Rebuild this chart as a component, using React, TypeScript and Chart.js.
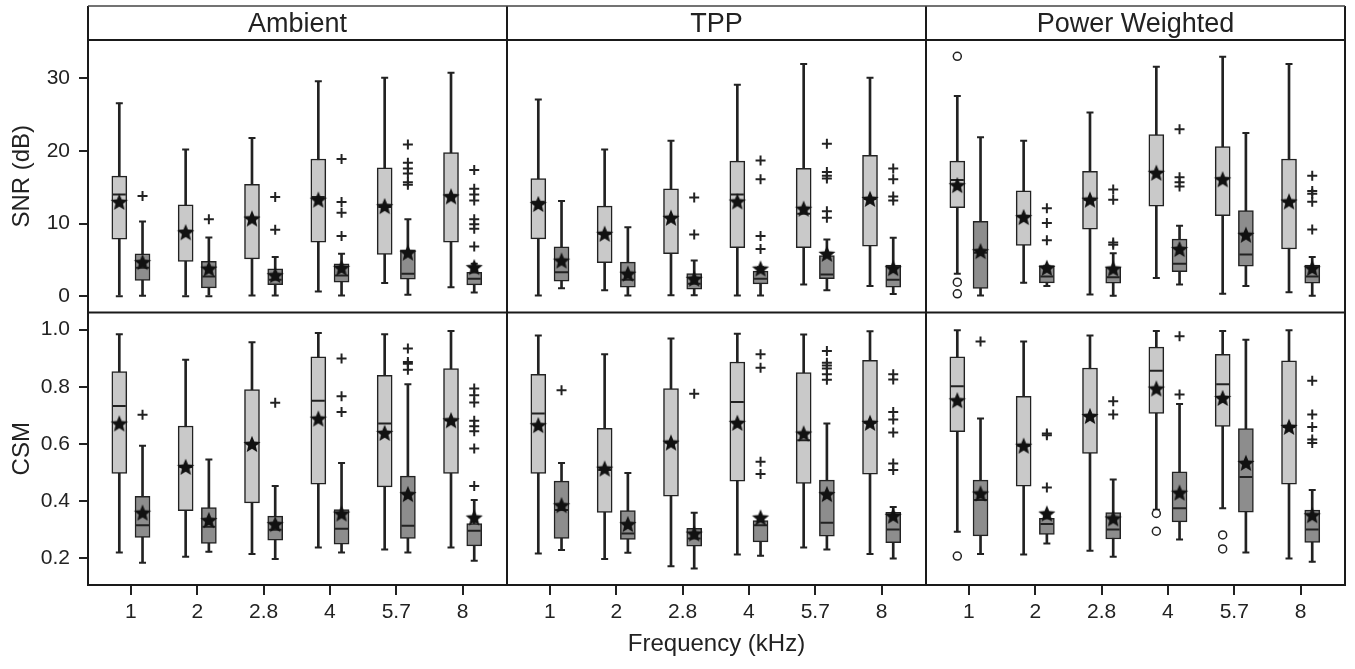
import { useEffect, useRef } from 'react';
import { Chart, registerables } from 'chart.js';

Chart.register(...registerables);

// ---------- labels ----------
const FREQ_LABELS = ['1', '2', '2.8', '4', '5.7', '8'];
const PANEL_TITLES = ['Ambient', 'TPP', 'Power Weighted'];
const SNR_TICKS = [0, 10, 20, 30];
const CSM_TICKS = [0.2, 0.4, 0.6, 0.8, 1.0];
const SNR_TITLE = 'SNR (dB)';
const CSM_TITLE = 'CSM';
const X_TITLE = 'Frequency (kHz)';

// ---------- data: each row = [min, q1, median, q3, max, mean] per frequency ----------
// group A = light boxes, group B = dark boxes
const SNR_AMBIENT_A = [
  [0, 7.86, 14.0, 16.55, 26.6, 13.0],
  [0, 4.78, 9.0, 12.6, 20.2, 8.8],
  [0.1, 5.15, 10.8, 15.4, 21.8, 10.7],
  [0.64, 7.45, 13.65, 18.9, 29.6, 13.3],
  [1.8, 5.75, 12.3, 17.7, 30.1, 12.4],
  [1.24, 7.45, 13.9, 19.8, 30.8, 13.75],
];
const SNR_AMBIENT_B = [
  [0.05, 2.16, 3.9, 5.84, 10.3, 4.7],
  [0, 1.15, 2.7, 4.8, 8.1, 3.8],
  [0.1, 1.6, 2.25, 3.77, 5.4, 2.9],
  [0.1, 1.93, 2.85, 4.46, 5.84, 3.9],
  [0.2, 2.35, 3.1, 6.4, 10.6, 6.0],
  [0.5, 1.56, 2.4, 3.3, 4.46, 4.0],
];
const SNR_AMBIENT_B_OUT = [
  [13.8], [10.6], [13.65, 9.15], [18.9, 12.97, 11.5, 8.3],
  [20.9, 18.4, 17.6, 16.9, 15.7, 15.35],
  [17.4, 14.8, 14.0, 13.2, 10.6, 9.9, 9.3, 6.85],
];

const SNR_TPP_A = [
  [0.1, 7.9, 13.0, 16.2, 27.1, 12.7],
  [0.8, 4.6, 8.6, 12.4, 20.2, 8.6],
  [0.14, 5.84, 10.9, 14.8, 21.4, 10.8],
  [0.1, 6.7, 14.0, 18.6, 29.15, 13.05],
  [1.6, 6.7, 11.35, 17.6, 32.0, 12.05],
  [1.4, 6.9, 13.4, 19.4, 30.1, 13.4],
];
const SNR_TPP_B = [
  [1.1, 2.07, 3.3, 6.8, 13.1, 4.9],
  [0.1, 1.24, 2.25, 4.7, 9.5, 3.1],
  [0.14, 0.97, 1.7, 3.1, 4.9, 2.4],
  [0.1, 1.7, 2.4, 3.45, 4.0, 3.8],
  [0.8, 2.4, 3.0, 5.6, 7.8, 5.84],
  [0.3, 1.24, 2.25, 4.3, 8.05, 3.86],
];
const SNR_TPP_B_OUT = [
  [], [], [13.6, 8.5], [18.7, 16.1, 8.3, 6.5],
  [21.0, 17.1, 16.6, 16.2, 11.7, 10.8],
  [17.6, 16.1, 13.75, 13.2],
];

const SNR_PW_A = [
  [3.1, 12.2, 16.0, 18.6, 27.6, 15.3],
  [1.84, 7.0, 11.0, 14.5, 21.4, 10.9],
  [0.23, 9.24, 13.3, 17.2, 25.3, 13.3],
  [2.5, 12.4, 17.1, 22.25, 31.6, 17.0],
  [0.32, 11.1, 16.2, 20.6, 33.0, 16.1],
  [0.55, 6.5, 13.05, 18.9, 32.0, 13.05],
];
const SNR_PW_A_CIRC = [[33.05, 1.93, 0.32], [], [], [], [], []];
const SNR_PW_B = [
  [0.1, 1.06, 6.0, 10.3, 21.9, 6.2],
  [1.4, 1.84, 2.7, 4.2, 4.2, 3.9],
  [0.05, 1.8, 2.6, 4.0, 5.9, 3.8],
  [1.6, 3.36, 4.46, 7.86, 9.7, 6.5],
  [1.4, 4.14, 5.75, 11.8, 22.5, 8.46],
  [0.05, 1.8, 2.7, 4.3, 5.4, 3.86],
];
const SNR_PW_B_OUT = [
  [], [12.1, 10.1, 7.7], [14.7, 13.3, 7.4, 7.1], [23.0, 16.4, 15.7, 15.1], [],
  [16.6, 14.5, 14.1, 13.0, 9.2],
];

const CSM_AMBIENT_A = [
  [0.221, 0.497, 0.733, 0.853, 0.984, 0.672],
  [0.206, 0.367, 0.52, 0.663, 0.895, 0.52],
  [0.215, 0.394, 0.602, 0.79, 0.956, 0.6],
  [0.238, 0.46, 0.751, 0.905, 0.988, 0.689],
  [0.231, 0.45, 0.672, 0.84, 0.984, 0.639],
  [0.238, 0.497, 0.683, 0.864, 0.995, 0.683],
];
const CSM_AMBIENT_B = [
  [0.185, 0.273, 0.316, 0.417, 0.594, 0.36],
  [0.223, 0.252, 0.311, 0.378, 0.546, 0.334],
  [0.198, 0.264, 0.3, 0.348, 0.453, 0.32],
  [0.221, 0.25, 0.304, 0.371, 0.534, 0.357],
  [0.221, 0.27, 0.314, 0.488, 0.809, 0.425],
  [0.192, 0.244, 0.297, 0.322, 0.404, 0.343],
];
const CSM_AMBIENT_B_OUT = [
  [0.702], [], [0.744], [0.899, 0.767, 0.712],
  [0.934, 0.887, 0.881, 0.86],
  [0.794, 0.771, 0.745, 0.681, 0.662, 0.645, 0.584, 0.453],
];

const CSM_TPP_A = [
  [0.217, 0.497, 0.707, 0.844, 0.98, 0.666],
  [0.198, 0.361, 0.509, 0.655, 0.914, 0.514],
  [0.173, 0.418, 0.605, 0.794, 0.969, 0.605],
  [0.214, 0.47, 0.747, 0.887, 0.986, 0.674],
  [0.238, 0.462, 0.613, 0.85, 0.983, 0.637],
  [0.215, 0.495, 0.674, 0.893, 0.994, 0.674],
];
const CSM_TPP_B = [
  [0.229, 0.27, 0.369, 0.47, 0.534, 0.386],
  [0.22, 0.266, 0.287, 0.367, 0.499, 0.32],
  [0.165, 0.243, 0.27, 0.305, 0.36, 0.287],
  [0.209, 0.258, 0.316, 0.332, 0.34, 0.343],
  [0.231, 0.278, 0.325, 0.474, 0.672, 0.425],
  [0.2, 0.255, 0.301, 0.361, 0.38, 0.349],
];
const CSM_TPP_B_OUT = [
  [0.788], [], [0.776], [0.914, 0.867, 0.538, 0.495],
  [0.925, 0.884, 0.875, 0.864, 0.844, 0.825],
  [0.844, 0.826, 0.712, 0.686, 0.64, 0.532, 0.509],
];

const CSM_PW_A = [
  [0.293, 0.643, 0.802, 0.905, 0.998, 0.753],
  [0.214, 0.453, 0.594, 0.767, 0.959, 0.594],
  [0.227, 0.567, 0.7, 0.866, 0.98, 0.698],
  [0.37, 0.707, 0.856, 0.939, 0.995, 0.794],
  [0.375, 0.662, 0.809, 0.914, 0.995, 0.761],
  [0.2, 0.46, 0.66, 0.891, 0.998, 0.66],
];
const CSM_PW_A_CIRC = [[0.208], [], [], [0.357, 0.295], [0.282, 0.233], []];
const CSM_PW_B = [
  [0.215, 0.279, 0.404, 0.474, 0.689, 0.427],
  [0.252, 0.284, 0.32, 0.34, 0.36, 0.357],
  [0.206, 0.268, 0.301, 0.36, 0.476, 0.34],
  [0.266, 0.328, 0.375, 0.503, 0.74, 0.43],
  [0.221, 0.362, 0.485, 0.654, 0.965, 0.534],
  [0.188, 0.256, 0.301, 0.369, 0.439, 0.351],
];
const CSM_PW_B_OUT = [
  [0.959], [0.637, 0.631, 0.448], [0.75, 0.703], [0.977, 0.773], [],
  [0.821, 0.703, 0.66, 0.616, 0.604],
];

const NONE: number[][] = [[], [], [], [], [], []];

// ---------- layout constants (axis space, not data) ----------
const COL_SPAN = 6.316; // x-units per panel column
const X_MIN = -0.647;
const GROUP_OFFSET = 0.175;
const SNR_RANGE = [-2.25, 35.3];
const CSM_RANGE = [0.107, 1.06];

const LIGHT = '#c9c9c9';
const DARK = '#8d8d8d';
const INK = '#222222';

type Panel = {
  a: number[][]; b: number[][];
  aOut: number[][]; bOut: number[][];
  aCirc: number[][]; bCirc: number[][];
};

const SNR_PANELS: Panel[] = [
  { a: SNR_AMBIENT_A, b: SNR_AMBIENT_B, aOut: NONE, bOut: SNR_AMBIENT_B_OUT, aCirc: NONE, bCirc: NONE },
  { a: SNR_TPP_A, b: SNR_TPP_B, aOut: NONE, bOut: SNR_TPP_B_OUT, aCirc: NONE, bCirc: NONE },
  { a: SNR_PW_A, b: SNR_PW_B, aOut: NONE, bOut: SNR_PW_B_OUT, aCirc: SNR_PW_A_CIRC, bCirc: NONE },
];
const CSM_PANELS: Panel[] = [
  { a: CSM_AMBIENT_A, b: CSM_AMBIENT_B, aOut: NONE, bOut: CSM_AMBIENT_B_OUT, aCirc: NONE, bCirc: NONE },
  { a: CSM_TPP_A, b: CSM_TPP_B, aOut: NONE, bOut: CSM_TPP_B_OUT, aCirc: NONE, bCirc: NONE },
  { a: CSM_PW_A, b: CSM_PW_B, aOut: NONE, bOut: CSM_PW_B_OUT, aCirc: CSM_PW_A_CIRC, bCirc: NONE },
];

function makeStar(): HTMLCanvasElement {
  const c = document.createElement('canvas');
  c.width = 20;
  c.height = 20;
  const g = c.getContext('2d')!;
  g.beginPath();
  for (let k = 0; k < 10; k++) {
    const r = k % 2 === 0 ? 9 : 4;
    const a = -Math.PI / 2 + (k * Math.PI) / 5;
    g.lineTo(10 + r * Math.cos(a), 10.8 + r * Math.sin(a));
  }
  g.closePath();
  g.fillStyle = '#111';
  g.fill();
  return c;
}

function rowDatasets(yAxisID: string, panels: Panel[], star: HTMLCanvasElement) {
  const whisk: any[] = [], boxA: any[] = [], boxB: any[] = [], med: any[] = [];
  const caps: any[] = [], means: any[] = [], plus: any[] = [], circ: any[] = [];
  panels.forEach((p, col) => {
    const groups: [number[][], number[][], number[][], number, any[]][] = [
      [p.a, p.aOut, p.aCirc, -GROUP_OFFSET, boxA],
      [p.b, p.bOut, p.bCirc, GROUP_OFFSET, boxB],
    ];
    groups.forEach(([stats, outs, circs, off, boxes]) => {
      stats.forEach((s, i) => {
        const x = col * COL_SPAN + i + off;
        const [mn, q1, md, q3, mx, mean] = s;
        whisk.push({ x, y: [mn, mx] });
        boxes.push({ x, y: [q1, q3] });
        med.push({ x, y: md });
        caps.push({ x, y: mn }, { x, y: mx });
        means.push({ x, y: mean });
        outs[i].forEach((v) => plus.push({ x, y: v }));
        circs[i].forEach((v) => circ.push({ x, y: v }));
      });
    });
  });
  const common = { xAxisID: 'x', yAxisID };
  return [
    { ...common, type: 'bar', data: whisk, barThickness: 2, grouped: false, backgroundColor: INK, borderWidth: 0, order: 8 },
    { ...common, type: 'bar', data: boxA, barThickness: 15, grouped: false, backgroundColor: LIGHT, borderColor: INK, borderWidth: 1.5, borderSkipped: false, order: 7 },
    { ...common, type: 'bar', data: boxB, barThickness: 15, grouped: false, backgroundColor: DARK, borderColor: INK, borderWidth: 1.5, borderSkipped: false, order: 7 },
    { ...common, type: 'scatter', data: med, pointStyle: 'line', pointRadius: 6.5, borderColor: INK, borderWidth: 2, order: 5 },
    { ...common, type: 'scatter', data: caps, pointStyle: 'line', pointRadius: 3.5, borderColor: INK, borderWidth: 2, order: 4 },
    { ...common, type: 'scatter', data: means, pointStyle: star, pointRadius: 9, order: 3 },
    { ...common, type: 'scatter', data: plus, pointStyle: 'cross', pointRadius: 5, borderColor: INK, borderWidth: 2, order: 2 },
    { ...common, type: 'scatter', data: circ, pointStyle: 'circle', pointRadius: 4, backgroundColor: '#ffffff', borderColor: INK, borderWidth: 1.5, order: 2 },
  ];
}

const framePlugin = {
  id: 'panelFrame',
  afterDraw(chart: any) {
    const { ctx, chartArea: a, scales } = chart;
    const top = scales.xTop.top + 1;
    ctx.save();
    ctx.strokeStyle = '#1a1a1a';
    ctx.lineWidth = 2;
    ctx.beginPath();
    ctx.moveTo(a.left, top); ctx.lineTo(a.left, a.bottom);
    ctx.moveTo(a.right, top); ctx.lineTo(a.right, a.bottom);
    ctx.moveTo(a.left - 1, a.bottom); ctx.lineTo(a.right + 1, a.bottom);
    ctx.moveTo(a.left, a.top); ctx.lineTo(a.right, a.top);
    const mid = scales.ySNR.bottom;
    ctx.moveTo(a.left, mid); ctx.lineTo(a.right, mid);
    for (let c = 1; c < 3; c++) {
      const px = scales.x.getPixelForValue(X_MIN + c * COL_SPAN);
      ctx.moveTo(px, top); ctx.lineTo(px, a.bottom);
    }
    ctx.stroke();
    ctx.lineWidth = 1.5;
    ctx.strokeStyle = '#444';
    ctx.beginPath();
    ctx.moveTo(a.left, top); ctx.lineTo(a.right, top);
    ctx.stroke();
    ctx.restore();
  },
};

export default function App() {
  const ref = useRef<HTMLCanvasElement>(null);

  useEffect(() => {
    const canvas = ref.current;
    if (!canvas) return;
    Chart.defaults.font.family = '"Liberation Sans", Arial, sans-serif';
    Chart.defaults.color = INK;
    const star = makeStar();

    const xTickValues: number[] = [];
    for (let c = 0; c < PANEL_TITLES.length; c++) {
      FREQ_LABELS.forEach((_, i) => xTickValues.push(c * COL_SPAN + i));
    }
    const headerTickValues = PANEL_TITLES.map((_, c) => X_MIN + (c + 0.5) * COL_SPAN);
    const xMax = X_MIN + PANEL_TITLES.length * COL_SPAN;

    const yCommon = (title: string) => ({
      type: 'linear',
      position: 'left',
      stack: 'rows',
      stackWeight: 1,
      bounds: 'data',
      afterFit: (s: any) => { s.width = 88; },
      grid: { display: true, drawOnChartArea: false, drawTicks: true, tickLength: 9, lineWidth: 2, color: INK },
      border: { display: false },
      title: { display: true, text: title, font: { size: 24 }, color: INK, padding: { top: 8, bottom: 4 } },
    });

    const chart = new Chart(canvas, {
      type: 'bar',
      data: {
        datasets: [
          ...rowDatasets('ySNR', SNR_PANELS, star),
          ...rowDatasets('yCSM', CSM_PANELS, star),
        ] as any,
      },
      options: {
        animation: false,
        responsive: false,
        devicePixelRatio: 1,
        events: [],
        layout: { padding: { top: 5, right: 7, bottom: 0, left: 0 } },
        plugins: { legend: { display: false }, tooltip: { enabled: false }, title: { display: false } },
        scales: {
          x: {
            type: 'linear',
            position: 'bottom',
            min: X_MIN,
            max: xMax,
            offset: false,
            bounds: 'data',
            afterBuildTicks: (s: any) => { s.ticks = xTickValues.map((v) => ({ value: v })); },
            afterFit: (s: any) => { s.height = 84; },
            ticks: {
              autoSkip: false, maxRotation: 0, minRotation: 0, padding: 5,
              font: { size: 21 }, color: INK,
              callback: (_v: any, i: number) => FREQ_LABELS[i % FREQ_LABELS.length],
            },
            grid: { display: true, drawOnChartArea: false, drawTicks: true, tickLength: 10, lineWidth: 2, color: INK, offset: false },
            border: { display: false },
            title: { display: true, text: X_TITLE, font: { size: 24 }, color: INK, padding: { top: 4, bottom: 10 } },
          },
          xTop: {
            type: 'linear',
            position: 'top',
            min: X_MIN,
            max: xMax,
            offset: false,
            bounds: 'data',
            afterBuildTicks: (s: any) => { s.ticks = headerTickValues.map((v) => ({ value: v })); },
            afterFit: (s: any) => { s.height = 35; },
            ticks: {
              autoSkip: false, maxRotation: 0, minRotation: 0, padding: -9,
              font: { size: 27 }, color: INK,
              callback: (_v: any, i: number) => PANEL_TITLES[i],
            },
            grid: { display: false },
            border: { display: false },
          },
          ySNR: {
            ...yCommon(SNR_TITLE),
            weight: 1,
            min: SNR_RANGE[0],
            max: SNR_RANGE[1],
            afterBuildTicks: (s: any) => { s.ticks = SNR_TICKS.map((v) => ({ value: v })); },
            ticks: { padding: 9, font: { size: 21 }, color: INK, callback: (v: any) => String(v) },
          },
          yCSM: {
            ...yCommon(CSM_TITLE),
            weight: 0,
            min: CSM_RANGE[0],
            max: CSM_RANGE[1],
            afterBuildTicks: (s: any) => { s.ticks = CSM_TICKS.map((v) => ({ value: v })); },
            ticks: { padding: 9, font: { size: 21 }, color: INK, callback: (v: any) => Number(v).toFixed(1) },
          },
        } as any,
      },
      plugins: [framePlugin],
    } as any);

    return () => chart.destroy();
  }, []);

  return (
    <div style={{ position: 'fixed', left: 0, top: 0, width: 1355, height: 669, background: '#ffffff' }}>
      <canvas ref={ref} width={1355} height={669} style={{ display: 'block', width: 1355, height: 669 }} />
    </div>
  );
}
